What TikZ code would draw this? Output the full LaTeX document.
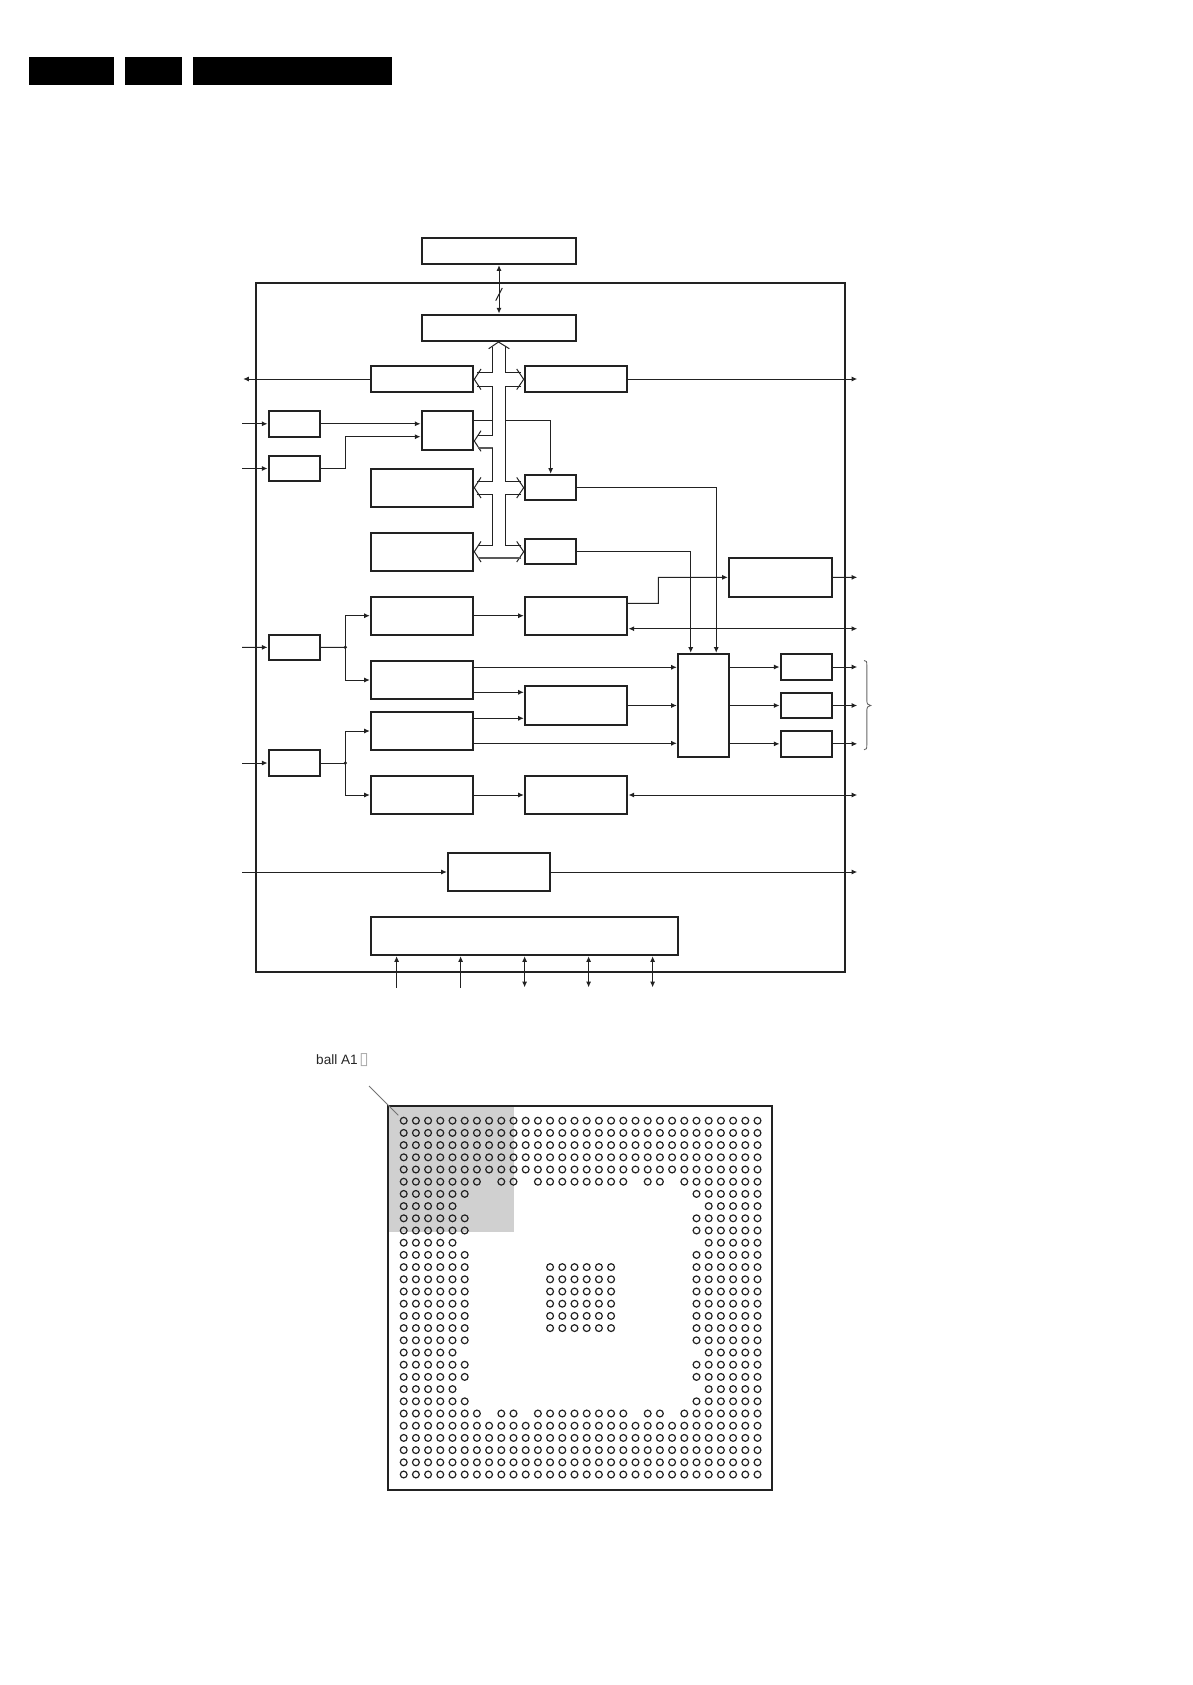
\documentclass[tikz,border=0pt]{standalone}
\usepackage{fontspec}
\setmainfont{Liberation Sans}
\newfontfamily\symfont{DejaVu Sans}
\usetikzlibrary{arrows.meta,calc}
\tikzset{
  blockbox/.style={draw=ink,line width=2pt,fill=white,inner sep=0pt,outer sep=0pt},
  framebox/.style={draw=ink,line width=2pt,inner sep=0pt,outer sep=0pt},
  conn/.style={draw=ink,line width=1pt,-{Latex[length=5.6pt,width=5pt]},shorten >=1.2pt},
  plainconn/.style={draw=ink,line width=1pt},
  twoway/.style={draw=ink,line width=1pt,{Latex[length=5.6pt,width=5pt]}-{Latex[length=5.6pt,width=5pt]},shorten >=1.2pt,shorten <=1.2pt},
  busline/.style={draw=ink,line width=1pt,line join=miter},
  busgray/.style={draw=gray!70!black,line width=1.1pt},
  jdot/.style={fill=ink,draw=none},
  ball/.style={draw=ink,line width=1.2pt},
  headbar/.style={fill=black,draw=none},
  leader/.style={draw=black!55,line width=0.8pt},
  bracepath/.style={draw=black!60,line width=0.9pt},
}
\definecolor{ink}{HTML}{222222}
\definecolor{quadgray}{HTML}{D0D0D0}
\newcommand{\blk}[5]{%
  \pgfmathsetmacro\blkw{#4-#2}\pgfmathsetmacro\blkh{#5-#3}%
  \pgfmathsetmacro\blkx{(#2+#4)/2}\pgfmathsetmacro\blky{(#3+#5)/2}%
  \node[blockbox,minimum width=\blkw pt,minimum height=\blkh pt] (#1) at (\blkx,\blky) {};}
\newcommand{\ballrow}[2]{%
  \foreach \ballc in {#2} {\draw[ball] ({403.7+12.2*\ballc},{1120.7+12.2*#1}) circle (3.4);}}
% bus chevrons: #1 = y of the tip
\newcommand{\leftchev}[1]{\draw[busline] (481,{#1-10.3}) -- (474.3,#1) -- (481,{#1+10.3});}
\newcommand{\rightchev}[1]{\draw[busline] (516.7,{#1-10.3}) -- (523.7,#1) -- (516.7,{#1+10.3});}
\begin{document}
\begin{tikzpicture}[x=1pt,y=-1pt]
\useasboundingbox[fill=white] (0,0) rectangle (1192,1685);

% header bars
\fill[headbar] (29,57) rectangle (114,85);
\fill[headbar] (125,57) rectangle (182,85);
\fill[headbar] (193,57) rectangle (392,85);

% chip frame
\draw[framebox] (256,282.7) rectangle (845,972);

% blocks
\blk{top}{421.7}{237.7}{576.3}{264}
\blk{biu}{421.7}{314.7}{576.3}{341}
\blk{A}{371}{366}{473.3}{392}
\blk{B}{525}{366}{627.3}{392}
\blk{s1}{268.7}{411}{320.3}{436.6}
\blk{s2}{268.7}{456}{320.3}{481}
\blk{C}{421.7}{411}{473.3}{450}
\blk{D}{371}{469}{473.3}{506.7}
\blk{E}{371}{533.3}{473.3}{571}
\blk{F}{525}{475}{576.3}{500.4}
\blk{G}{525}{539}{576.3}{564}
\blk{H}{371}{596.7}{473.3}{634.7}
\blk{I}{525}{596.7}{627.3}{634.7}
\blk{s3}{268.7}{634.7}{320.3}{660}
\blk{J}{371}{661}{473.3}{699}
\blk{K}{371}{712}{473.3}{750}
\blk{s4}{268.7}{750}{320.3}{776}
\blk{L}{371}{776}{473.3}{814}
\blk{M}{525}{686}{627.3}{725}
\blk{N}{525}{776}{627.3}{814}
\blk{O}{448}{853}{550}{891}
\blk{P}{371}{917}{678.3}{955}
\blk{Q}{729}{558}{832.3}{596.7}
\blk{R}{678}{654}{729}{756.7}
\blk{Ta}{780.7}{654}{832.3}{680}
\blk{Tb}{780.7}{692.7}{832.3}{718.3}
\blk{Tc}{780.7}{731}{832.3}{756.7}

% free ends
\coordinate (outA) at (242,379);
\coordinate (outB) at (858.4,379);
\coordinate (ins1) at (242,423.8);
\coordinate (ins2) at (242,468.5);
\coordinate (ins3) at (242,647.35);
\coordinate (ins4) at (242,763);
\coordinate (inO) at (242,872);
\coordinate (outO) at (858.4,872);
\coordinate (outQ) at (858.4,577.35);
\coordinate (outI) at (858.4,628.7);
\coordinate (outN) at (858.4,795);
\coordinate (outa) at (858.4,667);
\coordinate (outb) at (858.4,705.5);
\coordinate (outc) at (858.4,743.85);
\coordinate (j1) at (345.3,647.35);
\coordinate (j2) at (345.3,763);
\coordinate (pa) at (396.6,987.7);
\coordinate (pb) at (460.6,987.7);
\coordinate (pc) at (524.6,988.5);
\coordinate (pd) at (588.6,988.5);
\coordinate (pe) at (652.6,988.5);

% top link
\draw[twoway] (top.south) -- (biu.north);
\draw[plainconn] (495.7,300.7) -- (502.3,288);

% bus
\draw[busline] (488.7,348.7) -- (498.5,342) -- (509.3,348.7);
\draw[busline] (492.7,346.5) -- (492.7,372.7) -- (477,372.7);
\draw[busline] (505.3,346.5) -- (505.3,372.7) -- (521,372.7);
\leftchev{379.3}\rightchev{379.3}
\draw[busline] (477,386) -- (492.7,386) -- (492.7,435) -- (477.5,435);
\leftchev{441}
\draw[busgray] (477.5,448) -- (492.7,448);
\draw[busline] (492.7,448) -- (492.7,481) -- (477,481);
\leftchev{487.7}
\draw[busline] (477,494.3) -- (492.7,494.3) -- (492.7,545.3) -- (477.5,545.3);
\leftchev{551.7}
\draw[busline] (521,386) -- (505.3,386) -- (505.3,481) -- (521,481);
\rightchev{487.7}
\draw[busline] (521,494.3) -- (505.3,494.3) -- (505.3,545.3) -- (520.5,545.3);
\rightchev{551.7}
\draw[busgray] (477.5,558) -- (520.5,558);

% left side
\draw[conn] (A.west) -- (outA);
\draw[conn] (B.east) -- (outB);
\draw[conn] (ins1) -- (s1.west);
\draw[conn] (ins2) -- (s2.west);
\draw[conn] (s1.east) -- (s1.east -| C.west);
\draw[conn] (s2.east) -| (345.3,436.7) -- (421.7,436.7);
\draw[plainconn] ([yshift=10.2pt]C.east) -- (492.7,420.3);
\draw[conn] (505.3,420.3) -| (F.north);

% to the multiplexer
\draw[conn] (F.east) -| ([xshift=12.7pt]R.north);
\draw[conn] (G.east) -| ([xshift=-12.8pt]R.north);
\draw[conn] ([yshift=12.4pt]I.east) -| (658.3,577.35) -- (Q.west);
\draw[conn] (Q.east) -- (outQ);
\draw[twoway] ([yshift=-13pt]I.east) -- (outI);

% video inputs
\draw[conn] (ins3) -- (s3.west);
\draw[plainconn] (s3.east) -- (j1);
\draw[conn] (j1) |- (H.west);
\draw[conn] (j1) |- (J.west);
\fill[jdot] (j1) circle (1.8);
\draw[conn] (ins4) -- (s4.west);
\draw[plainconn] (s4.east) -- (j2);
\draw[conn] (j2) |- (K.west);
\draw[conn] (j2) |- (L.west);
\fill[jdot] (j2) circle (1.8);

\draw[conn] (H.east) -- (I.west);
\draw[conn] ([yshift=12.7pt]J.east) -- ([yshift=12.7pt]J.east -| R.west);
\draw[conn] ([yshift=-12.3pt]J.east) -- ([yshift=-12.3pt]J.east -| M.west);
\draw[conn] ([yshift=12.7pt]K.east) -- ([yshift=12.7pt]K.east -| M.west);
\draw[conn] ([yshift=-12.3pt]K.east) -- ([yshift=-12.3pt]K.east -| R.west);
\draw[conn] (M.east) -- (M.east -| R.west);
\draw[conn] (L.east) -- (N.west);
\draw[twoway] (N.east) -- (outN);

\draw[conn] (R.east |- Ta.west) -- (Ta.west);
\draw[conn] (R.east |- Tb.west) -- (Tb.west);
\draw[conn] (R.east |- Tc.west) -- (Tc.west);
\draw[conn] (Ta.east) -- (Ta.east -| outa);
\draw[conn] (Tb.east) -- (Tb.east -| outb);
\draw[conn] (Tc.east) -- (Tc.east -| outc);

\draw[conn] (inO) -- (O.west);
\draw[conn] (O.east) -- (outO);

% bottom bus links
\draw[conn] (pa) -- (pa |- P.south);
\draw[conn] (pb) -- (pb |- P.south);
\draw[twoway] (pc |- P.south) -- (pc);
\draw[twoway] (pd |- P.south) -- (pd);
\draw[twoway] (pe |- P.south) -- (pe);

% brace
\draw[bracepath] (864,660.5) .. controls (866.5,660.5) and (866.8,661.5) .. (866.8,665)
  -- (866.8,700) .. controls (866.8,704) and (868,705.2) .. (870.7,705.5)
  .. controls (868,705.8) and (866.8,707) .. (866.8,711)
  -- (866.8,745) .. controls (866.8,748.5) and (866.5,749.8) .. (864,749.8);

% ball grid
\fill[quadgray] (388.3,1106) rectangle (513.7,1231.7);
\draw[framebox] (388.3,1106) rectangle (772,1489.5);
\draw[leader] (369,1086) -- (398.3,1115.3);
\node[anchor=base west,inner sep=0pt,font=\fontsize{13.6pt}{15pt}\selectfont,text=black!85] (ballA) at (316,1064) {ball A1\kern1.6pt{\symfont\fontsize{17pt}{17pt}\selectfont\color{black!35}▯}};

\foreach \r in {0,...,4,25,26,27,28,29} {\ballrow{\r}{0,...,29}}
\foreach \r in {5,24} {\ballrow{\r}{0,...,6,8,9,11,12,...,18,20,21,23,24,...,29}}
\foreach \r in {6,8,9,11,12,13,14,15,16,17,18,20,21,23} {\ballrow{\r}{0,...,5,24,25,...,29}}
\foreach \r in {7,10,19,22} {\ballrow{\r}{0,...,4,25,26,...,29}}
\foreach \r in {12,...,17} {\ballrow{\r}{12,...,17}}
\end{tikzpicture}
\end{document}
